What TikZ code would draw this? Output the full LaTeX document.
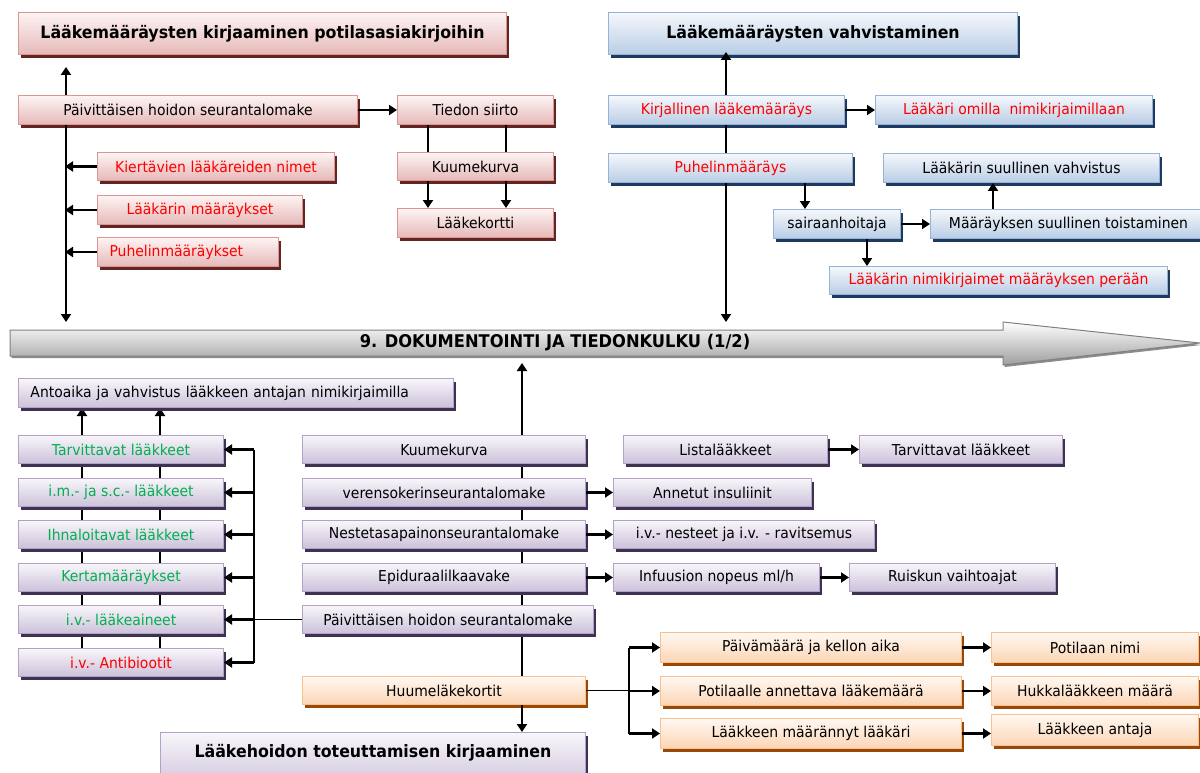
\documentclass[tikz,border=0pt]{standalone}
\usepackage{fontspec}
\setmainfont{DejaVu Sans}[FakeStretch=0.93]
\usetikzlibrary{arrows.meta,shadows,backgrounds}

% box palettes: top / bottom of the gradient, border, shadow
\definecolor{rtop}{HTML}{FDF4F4}\definecolor{rbot}{HTML}{E6B9B8}
\definecolor{rbrd}{HTML}{D99694}\definecolor{rshd}{HTML}{632523}
\definecolor{btop}{HTML}{F5F8FC}\definecolor{bbot}{HTML}{B9CDE5}
\definecolor{bbrd}{HTML}{95B3D7}\definecolor{bshd}{HTML}{1F3A60}
\definecolor{ptop}{HTML}{F8F6FA}\definecolor{pbot}{HTML}{CCC1DA}
\definecolor{pbrd}{HTML}{B3A2C7}\definecolor{pshd}{HTML}{3F3151}
\definecolor{otop}{HTML}{FFF8F2}\definecolor{obot}{HTML}{FCD5B5}
\definecolor{obrd}{HTML}{FAC090}\definecolor{oshd}{HTML}{984807}
\definecolor{tred}{HTML}{FF0000}
\definecolor{tgreen}{HTML}{00B050}

\newcommand{\fs}{\fontsize{15}{18}\selectfont}
\newcommand{\tf}{\fontsize{17}{20}\selectfont\bfseries}

% \bx[extra]{style}{name}{x1}{y1}{x2}{y2}{text}
\newcommand{\bx}[8][]{\node[#2,anchor=north west,minimum width=#6pt-#4pt,minimum height=#7pt-#5pt,#1] (#3) at (#4,#5) {#8};}

\begin{document}
\begin{tikzpicture}[x=1pt,y=-1pt,
  box/.style={inner sep=0pt,line width=1pt,font=\fs,align=center,text=black},
  rbox/.style={box,draw=rbrd,top color=rtop,bottom color=rbot,
    drop shadow={shadow xshift=2pt,shadow yshift=-3.5pt,fill=rshd,opacity=1}},
  bbox/.style={box,draw=bbrd,top color=btop,bottom color=bbot,
    drop shadow={shadow xshift=2pt,shadow yshift=-3.5pt,fill=bshd,opacity=1}},
  pbox/.style={box,draw=pbrd,top color=ptop,bottom color=pbot,
    drop shadow={shadow xshift=2pt,shadow yshift=-3.5pt,fill=pshd,opacity=1}},
  obox/.style={box,draw=obrd,top color=otop,bottom color=obot,
    drop shadow={shadow xshift=2pt,shadow yshift=-3.5pt,fill=oshd,opacity=1}},
  ln/.style={line width=2.9pt,black},
  thinln/.style={line width=1.6pt,black},
  arr/.style={ln,-{Triangle[length=8pt,width=10pt]}},
  bigarrow/.style={draw=black!50,line width=1pt,top color=white,bottom color=black!38,
    drop shadow={shadow xshift=1.5pt,shadow yshift=-2pt,fill=black!45,opacity=1}},
]
\useasboundingbox (0,0) rectangle (1200,773);
\begin{scope}[on background layer]
  \fill[white] (0,0) rectangle (1200,773);
\end{scope}

% guide coordinates for vertical connectors
\coordinate (xL) at (66,0);
\coordinate (xT1) at (428,0);
\coordinate (xT2) at (506,0);
\coordinate (xR) at (726,0);
\coordinate (xS) at (805,0);
\coordinate (xN) at (867,0);
\coordinate (xV) at (993,0);
\coordinate (xC1) at (82,0);
\coordinate (xC2) at (160,0);
\coordinate (xB) at (254,0);
\coordinate (xM) at (522,0);
\coordinate (xJ) at (629,0);
\coordinate (docTop) at (0,322);
\coordinate (docBot) at (0,363);

% central timeline arrow
\path[bigarrow] (10,330) -- (1003,330) -- (1003,322) -- (1200,343)
  -- (1003,365) -- (1003,356) -- (10,356) -- cycle;
\node[font=\fontsize{17.5}{20}\selectfont\bfseries] (doc) at (555,343) {9. DOKUMENTOINTI JA TIEDONKULKU (1/2)};

% ---- recording into patient records (red)
\bx[font=\tf]{rbox}{t1}{18}{12}{506}{54}{Lääkemääräysten kirjaaminen potilasasiakirjoihin}
\bx{rbox}{r1}{18}{95}{357}{124}{Päivittäisen hoidon seurantalomake}
\bx{rbox}{r2}{397}{95}{553}{124}{Tiedon siirto}
\bx{rbox}{r3}{397}{152}{553}{180}{Kuumekurva}
\bx{rbox}{r4}{397}{208}{553}{237}{Lääkekortti}
\bx[text=tred]{rbox}{r5}{97}{152}{334}{180}{Kiertävien lääkäreiden nimet}
\bx[text=tred]{rbox}{r6}{97}{195}{302}{224}{Lääkärin määräykset}
\bx[text=tred,text width=157pt,align=left,inner xsep=12pt]{rbox}{r7}{97}{237}{278}{266}{Puhelinmääräykset}

% ---- confirmation of orders (blue)
\bx[font=\tf]{bbox}{t2}{608}{12}{1017}{54}{Lääkemääräysten vahvistaminen}
\bx[text=tred]{bbox}{b1}{608}{95}{844}{124}{Kirjallinen lääkemääräys}
\bx[text=tred]{bbox}{b2}{875}{95}{1152}{124}{Lääkäri omilla~ nimikirjaimillaan}
\bx[text=tred]{bbox}{b3}{608}{153}{852}{182}{Puhelinmääräys}
\bx{bbox}{b4}{883}{153}{1159}{182}{Lääkärin suullinen vahvistus}
\bx{bbox}{b5}{773}{209}{900}{238}{sairaanhoitaja}
\bx{bbox}{b6}{930}{209}{1206}{238}{Määräyksen suullinen toistaminen}
\bx[text=tred]{bbox}{b7}{829}{266}{1167}{294}{Lääkärin nimikirjaimet määräyksen perään}

% ---- administration records (purple)
\bx[text width=411pt,align=left,inner xsep=12pt]{pbox}{an}{18}{378}{453}{407}{Antoaika ja vahvistus lääkkeen antajan nimikirjaimilla}
\bx[text=tgreen]{pbox}{l1}{18}{435}{223}{463}{Tarvittavat lääkkeet}
\bx[text=tgreen]{pbox}{l2}{18}{478}{223}{506}{i.m.- ja s.c.- lääkkeet}
\bx[text=tgreen]{pbox}{l3}{18}{520}{223}{548}{Ihnaloitavat lääkkeet}
\bx[text=tgreen]{pbox}{l4}{18}{563}{223}{591}{Kertamääräykset}
\bx[text=tgreen]{pbox}{l5}{18}{605}{223}{633}{i.v.- lääkeaineet}
\bx[text=tred]{pbox}{l6}{18}{648}{223}{676}{i.v.- Antibiootit}

\bx{pbox}{m1}{302}{435}{585}{463}{Kuumekurva}
\bx{pbox}{m2}{302}{478}{585}{506}{verensokerinseurantalomake}
\bx{pbox}{m3}{302}{520}{585}{548}{Nestetasapainonseurantalomake}
\bx{pbox}{m4}{302}{563}{585}{591}{Epiduraalilkaavake}
\bx{pbox}{pd}{302}{605}{593}{633}{Päivittäisen hoidon seurantalomake}
\bx{obox}{hu}{302}{676}{585}{704}{Huumeläkekortit}
\bx[font=\tf,text height=13pt,text depth=21pt]{pbox}{lk}{160}{732}{585}{790}{Lääkehoidon toteuttamisen kirjaaminen}

\bx{pbox}{ll}{623}{435}{827}{463}{Listalääkkeet}
\bx{pbox}{lt}{859}{435}{1062}{463}{Tarvittavat lääkkeet}
\bx{pbox}{ai}{613}{478}{811}{506}{Annetut insuliinit}
\bx{pbox}{iv}{613}{520}{874}{548}{i.v.- nesteet ja i.v. - ravitsemus}
\bx{pbox}{in}{613}{563}{819}{591}{Infuusion nopeus ml/h}
\bx{pbox}{rv}{849}{563}{1055}{591}{Ruiskun vaihtoajat}

% ---- narcotics card (orange)
\bx{obox}{o1}{660}{632}{961}{662}{Päivämäärä ja kellon aika}
\bx{obox}{o2}{660}{676}{961}{705}{Potilaalle annettava lääkemäärä}
\bx{obox}{o3}{660}{718}{961}{748}{Lääkkeen määrännyt lääkäri}
\bx{obox}{p1}{991}{632}{1198}{662}{Potilaan nimi}
\bx{obox}{p2}{991}{676}{1198}{705}{Hukkalääkkeen määrä}
\bx{obox}{p3}{991}{714}{1198}{745}{Lääkkeen antaja}

% ---- connectors, upper left
\draw[arr,shorten >=12pt] (r1.north -| xL) -- (xL |- t1.south);
\draw[arr] (r1.south -| xL) -- (xL |- docTop);
\draw[arr] (r1.east) -- (r2.west);
\draw[ln] (r2.south -| xT1) -- (r3.north -| xT1);
\draw[ln] (r2.south -| xT2) -- (r3.north -| xT2);
\draw[arr] (r3.south -| xT1) -- (r4.north -| xT1);
\draw[arr] (r3.south -| xT2) -- (r4.north -| xT2);
\foreach \n in {r5,r6,r7} \draw[arr,shorten >=-1pt] (\n.west) -- (\n.west -| xL);

% ---- connectors, upper right
\draw[arr,shorten >=-3pt] (b1.north -| xR) -- (xR |- t2.south);
\draw[ln] (b1.south -| xR) -- (b3.north -| xR);
\draw[arr] (b3.south -| xR) -- (xR |- docTop);
\draw[arr] (b1.east) -- (b2.west);
\draw[arr] (b3.south -| xS) -- (b5.north -| xS);
\draw[arr] (b5.east) -- (b6.west);
\draw[arr] (b6.north -| xV) -- (b4.south -| xV);
\draw[arr] (b5.south -| xN) -- (b7.north -| xN);

% ---- connectors, lower part
\begin{scope}[on background layer]
  \draw[arr] (hu.north -| xM) -- (xM |- docBot);
  \draw[arr] (l6.north -| xC1) -- (xC1 |- an.south);
  \draw[arr] (l6.north -| xC2) -- (xC2 |- an.south);
\end{scope}
\draw[arr] (hu.south -| xM) -- (lk.north -| xM);
\draw[ln] (l1.east -| xB) -- (l6.east -| xB);
\foreach \n in {l1,l2,l3,l4,l5,l6} \draw[arr] (\n.east -| xB) -- (\n.east);
\draw[thinln] (pd.west) -- (pd.west -| xB);
\draw[arr] (ll.east) -- (lt.west);
\draw[arr] (m2.east) -- (ai.west);
\draw[arr] (m3.east) -- (iv.west);
\draw[arr] (m4.east) -- (in.west);
\draw[arr] (in.east) -- (rv.west);
\draw[thinln] (hu.east) -- (hu.east -| xJ);
\draw[ln] (o1.west -| xJ) -- (o3.west -| xJ);
\foreach \n in {o1,o2,o3} \draw[arr] (\n.west -| xJ) -- (\n.west);
\draw[arr] (o1.east) -- (p1.west);
\draw[arr] (o2.east) -- (p2.west);
\draw[arr] (o3.east) -- (o3.east -| p3.west);
\end{tikzpicture}
\end{document}
